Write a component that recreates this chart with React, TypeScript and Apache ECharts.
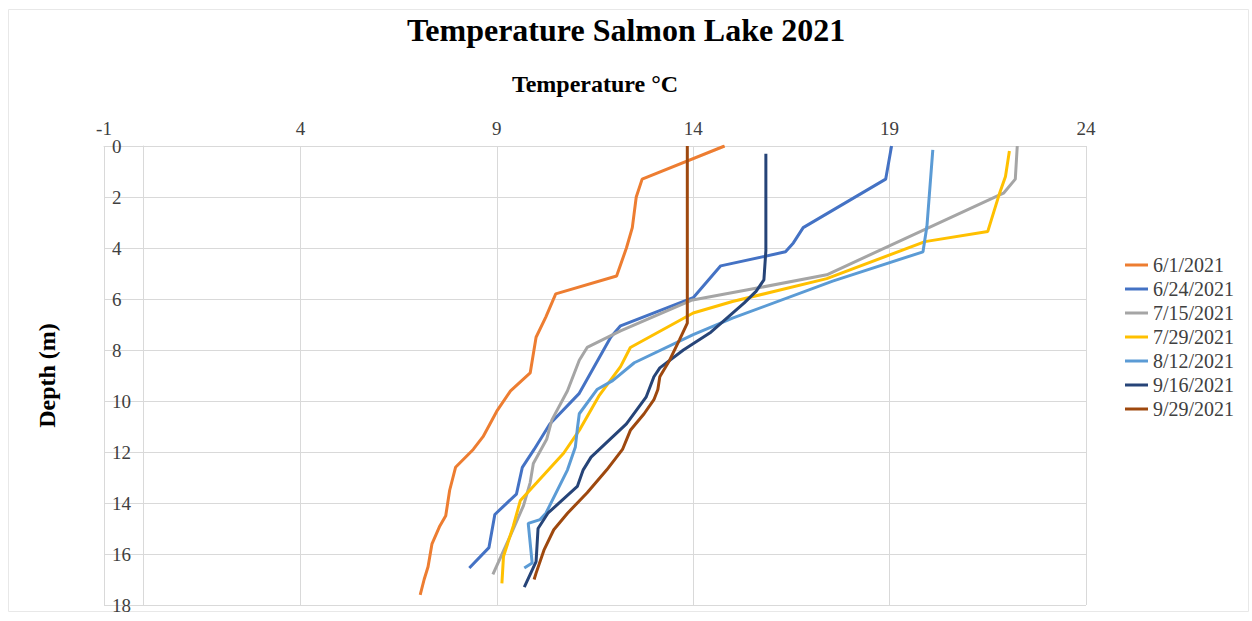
import React, { useEffect, useRef } from "react";
import * as echarts from "echarts";

const seriesNames = ["6/1/2021", "6/24/2021", "7/15/2021", "7/29/2021", "8/12/2021", "9/16/2021", "9/29/2021"];
const seriesColors = ["#ED7D31", "#4472C4", "#A5A5A5", "#FFC000", "#5B9BD5", "#264478", "#9E480E"];

const depth0601 = [0, 1.3, 2.0, 3.2, 4.0, 5.1, 5.8, 6.7, 7.5, 8.9, 9.6, 10.4, 11.4, 11.9, 12.6, 13.5, 14.5, 14.9, 15.6, 16.5, 17.0, 17.6];
const temp0601 = [14.8, 12.7, 12.55, 12.45, 12.3, 12.05, 10.5, 10.25, 10.0, 9.85, 9.35, 9.0, 8.65, 8.4, 7.95, 7.8, 7.7, 7.55, 7.35, 7.25, 7.15, 7.05];

const depth0624 = [0, 1.3, 3.2, 3.8, 4.15, 4.7, 5.95, 7.05, 7.5, 9.15, 9.7, 10.9, 11.9, 12.6, 13.65, 14.45, 15.75, 16.55];
const temp0624 = [19.05, 18.9, 16.8, 16.55, 16.35, 14.7, 14.0, 12.15, 11.9, 11.3, 11.1, 10.35, 9.95, 9.65, 9.5, 8.95, 8.8, 8.3];

const depth0715 = [0, 1.3, 1.85, 5.05, 5.55, 6.05, 7.25, 7.9, 8.4, 9.6, 10.75, 11.5, 12.45, 13.2, 14.1, 15.3, 16.8];
const temp0715 = [22.25, 22.2, 21.9, 17.4, 15.7, 13.95, 12.15, 11.3, 11.1, 10.8, 10.4, 10.27, 9.93, 9.85, 9.68, 9.34, 8.9];

const depth0729 = [0.2, 1.2, 1.85, 3.35, 3.75, 5.2, 6.1, 6.55, 7.9, 8.65, 9.8, 11.1, 12.05, 13.2, 13.9, 14.9, 16.1, 17.15];
const temp0729 = [22.05, 21.95, 21.8, 21.5, 19.9, 17.4, 15.0, 14.0, 12.4, 12.15, 11.6, 11.12, 10.7, 10.02, 9.6, 9.42, 9.17, 9.13];

const depth0812 = [0.15, 3.15, 4.15, 5.3, 6.75, 7.4, 8.5, 9.2, 9.55, 10.5, 11.1, 11.8, 12.7, 14.4, 14.65, 14.8, 16.35, 16.55];
const temp0812 = [20.1, 19.95, 19.85, 17.55, 15.0, 14.0, 12.5, 11.95, 11.55, 11.1, 11.05, 11.0, 10.8, 10.25, 10.1, 9.8, 9.9, 9.7];

const depth0916 = [0.3, 4.1, 5.25, 5.7, 6.15, 7.3, 8.0, 8.7, 9.05, 9.85, 10.9, 12.2, 12.7, 13.35, 14.4, 15.0, 16.3, 17.3];
const temp0916 = [15.85, 15.85, 15.8, 15.6, 15.3, 14.45, 13.75, 13.15, 13.0, 12.8, 12.3, 11.4, 11.2, 11.05, 10.3, 10.05, 10.0, 9.7];

const depth0929 = [0, 6.95, 7.6, 8.4, 9.05, 9.55, 9.95, 10.5, 11.15, 11.9, 12.7, 13.6, 14.4, 15.05, 15.85, 16.75, 17.0];
const temp0929 = [13.85, 13.85, 13.65, 13.4, 13.15, 13.1, 13.0, 12.75, 12.4, 12.2, 11.8, 11.3, 10.8, 10.45, 10.2, 10.0, 9.95];

const depths = [depth0601, depth0624, depth0715, depth0729, depth0812, depth0916, depth0929];
const temps = [temp0601, temp0624, temp0715, temp0729, temp0812, temp0916, temp0929];

const FONT = "'Liberation Serif', 'Times New Roman', serif";

export default function App() {
  const ref = useRef<HTMLDivElement>(null);
  useEffect(() => {
    if (!ref.current) return;
    const chart = echarts.init(ref.current, undefined, { renderer: "svg" });
    const series = seriesNames.map((name, i) => ({
      name,
      type: "line",
      data: depths[i].map((d, j) => [temps[i][j], d]),
      symbol: "none",
      smooth: false,
      lineStyle: { width: 3, color: seriesColors[i] },
      itemStyle: { color: seriesColors[i] },
      z: 2 + i,
    }));
    chart.setOption({
      animation: false,
      backgroundColor: "#ffffff",
      textStyle: { fontFamily: FONT },
      title: {
        text: "Temperature Salmon Lake 2021",
        left: "center",
        top: 9,
        textStyle: { fontFamily: FONT, fontSize: 32, fontWeight: "bold", color: "#000000" },
      },
      graphic: [
        {
          type: "rect",
          shape: { x: 8.5, y: 9.5, width: 1240, height: 602 },
          style: { fill: "none", stroke: "#e8e8e8", lineWidth: 1 },
          silent: true,
        },
      ],
      legend: {
        orient: "vertical",
        left: 1120,
        top: 250,
        icon: "rect",
        itemWidth: 23,
        itemHeight: 3,
        itemGap: 4,
        textStyle: { fontFamily: FONT, fontSize: 20, lineHeight: 20, color: "#404040" },
        data: seriesNames,
      },
      grid: { left: 104, right: 166, top: 146, bottom: 16, containLabel: false, outerBoundsMode: "none" },
      xAxis: {
        type: "value",
        position: "top",
        min: -1,
        max: 24,
        interval: 5,
        name: "Temperature °C",
        nameLocation: "middle",
        nameGap: 50,
        nameTextStyle: { fontFamily: FONT, fontSize: 24, fontWeight: "bold", color: "#000000" },
        axisLine: { show: true, lineStyle: { color: "#d9d9d9", width: 1 } },
        axisTick: { show: false },
        axisLabel: { fontFamily: FONT, fontSize: 19, color: "#404040", margin: 8 },
        splitLine: { show: true, lineStyle: { color: "#d9d9d9", width: 1 } },
      },
      yAxis: {
        type: "value",
        inverse: true,
        min: 0,
        max: 18,
        interval: 2,
        name: "Depth (m)",
        nameLocation: "middle",
        nameGap: 45,
        nameTextStyle: { fontFamily: FONT, fontSize: 24, fontWeight: "bold", color: "#000000" },
        axisLine: { show: true, onZero: true, lineStyle: { color: "#d9d9d9", width: 1 } },
        axisTick: { show: false },
        axisLabel: { fontFamily: FONT, fontSize: 19, color: "#404040", margin: -8, align: "left" },
        splitLine: { show: true, lineStyle: { color: "#d9d9d9", width: 1 } },
      },
      series,
    });
    return () => chart.dispose();
  }, []);
  return (
    <div
      ref={ref}
      style={{ position: "fixed", left: 0, top: 0, width: 1252, height: 621 }}
    />
  );
}
